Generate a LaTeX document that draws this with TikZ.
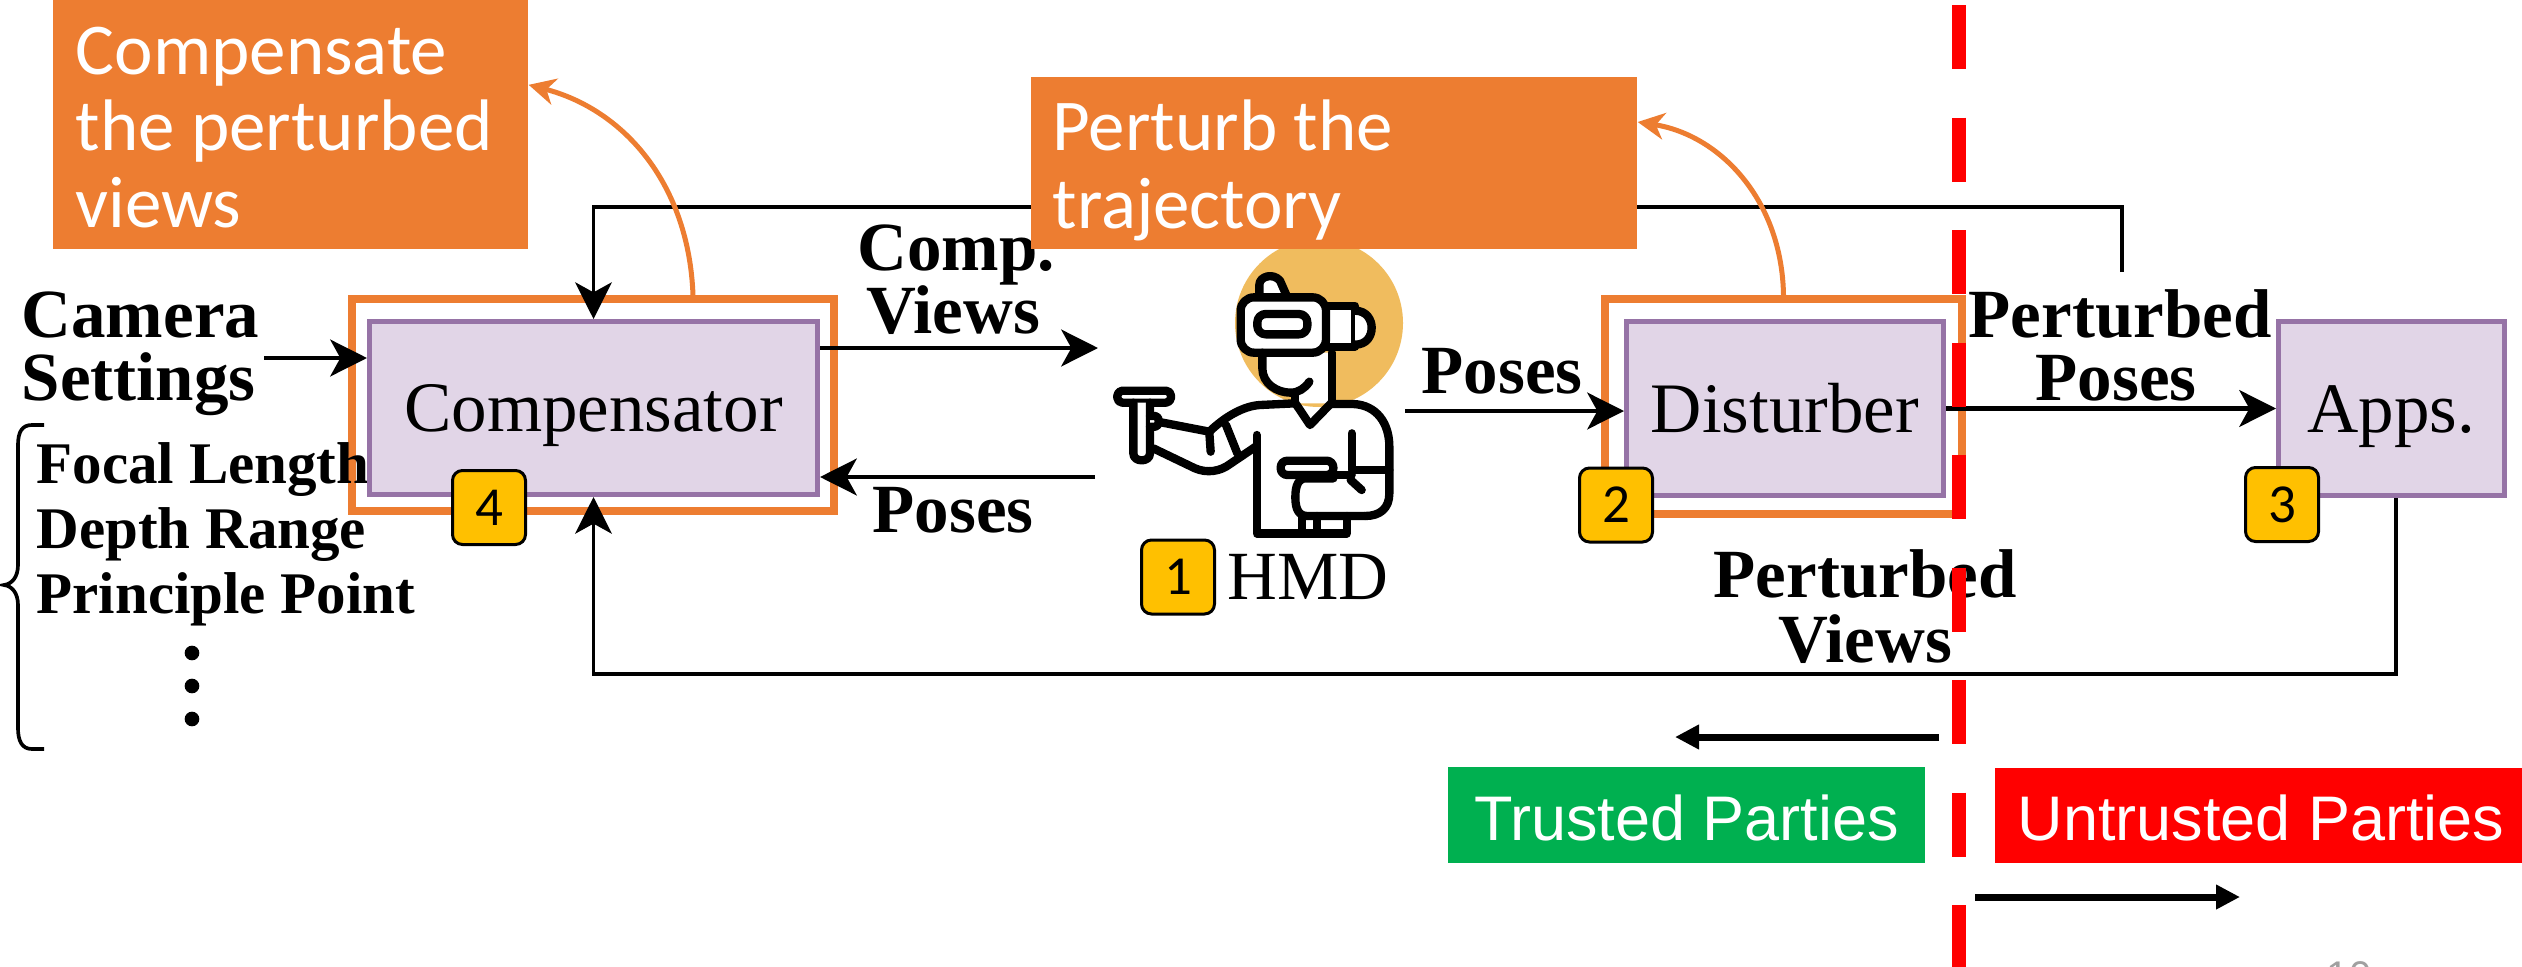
\documentclass[tikz,border=0pt]{standalone}
\usepackage{fontspec}
\usetikzlibrary{arrows.meta}
\newfontfamily\serifface{Liberation Serif}
\newfontfamily\noteface{Carlito}
\newfontfamily\partyface{Liberation Sans}
\definecolor{pptorange}{HTML}{ED7D31}
\definecolor{modfill}{HTML}{E1D5E7}
\definecolor{modline}{HTML}{9673A6}
\definecolor{badgefill}{HTML}{FFC000}
\definecolor{halo}{HTML}{F0BC5E}
\definecolor{trustgreen}{HTML}{00B050}
\definecolor{untrustred}{HTML}{FF0000}
\definecolor{pagegray}{HTML}{A0A0A0}

\tikzset{
  lbl/.style={inner sep=0pt, anchor=base, font=\serifface\bfseries\fontsize{20.7pt}{20.7pt}\selectfont},
  lst/.style={inner sep=0pt, anchor=base west, font=\serifface\bfseries\fontsize{17.7pt}{17.7pt}\selectfont},
  modbox/.style={draw=modline, fill=modfill, line width=1.5pt, inner sep=0pt, text height=14.1pt, text depth=0pt, font=\serifface\fontsize{21.3pt}{21.3pt}\selectfont},
  ringbox/.style={draw=pptorange, line width=2.2pt, inner sep=0pt},
  notebox/.style={fill=pptorange, inner sep=0pt},
  notetxt/.style={inner sep=0pt, anchor=base west, text=white, font=\noteface\fontsize{21.9pt}{21.9pt}\selectfont},
  badge/.style={draw=black, line width=0.9pt, fill=badgefill, rounded corners=3pt, minimum width=21.9pt, minimum height=22.2pt, inner sep=0pt, font=\noteface\fontsize{16.5pt}{16.5pt}\selectfont},
  flow/.style={line width=1.4pt, -{Stealth[length=11pt,width=11pt,inset=3pt]}},
  feedback/.style={line width=1.1pt, -{Stealth[length=11pt,width=11pt,inset=3pt]}},
  curlarrow/.style={draw=pptorange, line width=1.5pt, -{Stealth[length=8pt,width=8pt,inset=2.5pt]}},
  partybox/.style={inner sep=0pt, text=white, text height=15pt, text depth=0pt, font=\partyface\fontsize{18.9pt}{18.9pt}\selectfont},
  bigarrow/.style={line width=2.1pt, -{Triangle[length=7.2pt,width=7pt]}},
  boundary/.style={draw=untrustred, line width=4.2pt, dash pattern=on 19.2pt off 14.55pt},
  figline/.style={line width=2.5pt, line join=round, line cap=round},
}

\begin{document}
\begin{tikzpicture}[x=0.3pt,y=-0.3pt]
\useasboundingbox (0,0) rectangle (2522,966);
\fill[white] (0,0) rectangle (2522,966);

% ---------------- free ends of the connectors
\coordinate (camout)  at (264,358);
\coordinate (hmdin)   at (1098,348);
\coordinate (hmdout)  at (1095,477);
\coordinate (hmdpose) at (1405,411);
\coordinate (loopend) at (2122,272);
\coordinate (looptop) at (1000,207);
\coordinate (loopbot) at (1000,674);
\coordinate (trustfrom) at (1939,737);
\coordinate (trustto)   at (1675,737);
\coordinate (untrfrom)  at (1975,897);
\coordinate (untrto)    at (2240,897);
\coordinate (redtop) at (1959,5);
\coordinate (redbot) at (1959,980);

% ---------------- orange frames around the two privacy modules
\node[ringbox, minimum width=144.6pt, minimum height=63.6pt] (compring) at (593,405) {};
\node[ringbox, minimum width=107.1pt, minimum height=64.5pt] (distring) at (1783.5,406.5) {};

% ---------------- camera settings and their list
\node[lbl, anchor=base west] (camA) at (21,337) {Camera};
\node[lbl, anchor=base west] (camB) at (21,400) {Settings};
\node[lst] (focal) at (36,483) {Focal Length};
\node[lst] (depth) at (36,548) {Depth Range};
\node[lst] (princ) at (36,613) {Principle Point};
\foreach \y in {653,686,719} \fill (192,\y) circle[radius=2.2pt];
\draw[line width=1.1pt] (44,425) -- (32,425) .. controls (22,425) and (18,432) .. (18,445)
  -- (18,565) .. controls (18,577) and (12,584) .. (4,585)
  .. controls (12,586) and (18,593) .. (18,605)
  -- (18,728) .. controls (18,741) and (22,749) .. (32,749) -- (44,749);

% ---------------- modules
\node[modbox, minimum width=134.4pt, minimum height=51.9pt] (comp) at (593.5,408) {Compensator};
\node[modbox, minimum width=95.1pt, minimum height=52.2pt] (dist) at (1785,408.5) {Disturber};
\node[modbox, minimum width=67.8pt, minimum height=52.2pt] (apps) at (2391.5,408.5) {Apps.};

% ---------------- connector labels
\node[lbl] (compA) at (956,270) {Comp.};
\node[lbl] (compB) at (953,333) {Views};
\node[lbl] (posesL) at (953,532) {Poses};
\node[lbl] (posesU) at (1502,393) {Poses};
\node[lbl] (pertA) at (2120,337) {Perturbed};
\node[lbl] (pertB) at (2116,400) {Poses};
\node[lbl] (pvA) at (1865,597) {Perturbed};
\node[lbl] (pvB) at (1865,662) {Views};
\node[inner sep=0pt, anchor=base west, font=\serifface\fontsize{20.7pt}{20.7pt}\selectfont] (hmd) at (1227,599) {HMD};

% ---------------- connectors
\draw[flow] (camout) -- (camout -| comp.west);
\draw[flow] (comp.east |- hmdin) -- (hmdin);
\draw[flow] (hmdout) -- (hmdout -| comp.east);
\draw[flow] (hmdpose) -- (hmdpose -| dist.west);
\draw[flow] (dist.east) -- (apps.west);
\draw[feedback] (loopend) |- (looptop) -| (comp.north);
\draw[feedback] ([xshift=1.3pt]apps.south) |- (loopbot) -| (comp.south);

% ---------------- head-mounted display user
\fill[halo] (1319,323) circle[radius=25.2pt];
\begin{scope}[shift={(330pt,-72pt)}, x=0.1pt, y=-0.1pt, figline]
  \fill[white] (487,338) -- (487,385) .. controls (487,430) and (530,458) .. (585,458)
    -- (585,490) -- (695,490) -- (695,338) -- cycle;
  % hair tuft
  \draw[fill=white] (478,175) -- (478,135) .. controls (478,108) and (520,98) .. (540,122) -- (562,172);
  % strap and ear piece
  \draw[fill=white] (678,197) rectangle (765,320);
  \draw[fill=white] (765,212) .. controls (800,212) and (815,240) .. (815,263)
    .. controls (815,288) and (800,314) .. (765,314);
  % goggles
  \draw[fill=white, rounded corners=4pt] (422,172) rectangle (678,338);
  \draw[rounded corners=2.5pt] (472,222) rectangle (622,283);
  % face and neck
  \draw (487,338) -- (487,385) .. controls (487,430) and (530,458) .. (572,458)
    .. controls (595,458) and (615,445) .. (628,425);
  \draw (585,458) -- (585,490);
  \draw (695,338) -- (695,492);
  \draw (585,488) -- (630,555) -- (695,488);
  % shoulders and held-out arm
  \draw (585,490) -- (480,495) .. controls (430,498) and (375,530) .. (328,575) -- (178,546);
  \draw (160,625) -- (285,685) .. controls (320,700) and (360,695) .. (390,672) -- (470,618);
  \draw (328,578) -- (332,635);
  \draw (378,555) -- (412,640);
  % hand controller
  \draw[fill=white, rounded corners=1.5pt] (52,452) rectangle (213,488);
  \draw[fill=white] (100,488) -- (100,640) .. controls (100,668) and (150,668) .. (150,640) -- (150,488);
  \draw[fill=white] (150,528) -- (166,528) .. controls (180,528) and (180,560) .. (166,560) -- (150,560);
  % torso
  \draw (470,585) -- (470,880) -- (740,880) -- (740,828);
  % other arm
  \draw (695,492) -- (760,492) .. controls (830,495) and (868,550) .. (868,620) -- (868,760)
    .. controls (868,805) and (840,828) .. (795,828);
  \draw (755,580) -- (755,690) -- (868,690);
  % controller held at the waist
  \draw[fill=white, rounded corners=2pt] (542,662) rectangle (700,705);
  \draw (700,715) -- (618,715) .. controls (596,715) and (586,735) .. (586,772)
    .. controls (586,810) and (598,828) .. (622,828) -- (795,828);
  \draw (700,705) -- (755,705);
  \draw (752,720) -- (785,750);
  \draw (605,828) -- (605,880);
  \draw (650,828) -- (650,880);
\end{scope}

% ---------------- callouts
\node[notebox, minimum width=142.5pt, minimum height=74.7pt] (noteA) at (290.5,124.5) {};
\node[notetxt] (noteA1) at (75,74) {Compensate};
\node[notetxt] (noteA2) at (75,150) {the perturbed};
\node[notetxt] (noteA3) at (75,227) {views};
\node[notebox, minimum width=181.8pt, minimum height=51.6pt] (noteB) at (1334,163) {};
\node[notetxt] (noteB1) at (1052,150) {Perturb the};
\node[notetxt] (noteB2) at (1052,228) {trajectory};
\draw[curlarrow] ([xshift=30pt]compring.north) .. controls (689,185) and (625,110) .. ([yshift=11.9pt]noteA.east);
\draw[curlarrow] (distring.north) .. controls (1782,200) and (1720,135) .. ([yshift=12.3pt]noteB.east);

% ---------------- step numbers
\node[badge] (b1) at (1178,577) {1};
\node[badge] (b2) at (1616,505) {2};
\node[badge] (b3) at (2282,504.5) {3};
\node[badge] (b4) at (489,507.5) {4};

% ---------------- trust boundary
\node[partybox, fill=trustgreen, minimum width=143.1pt, minimum height=28.8pt] (trusted) at (1686.5,815) {Trusted Parties};
\node[partybox, fill=untrustred, minimum width=159.6pt, minimum height=28.5pt] (untrusted) at (2261,815.5) {Untrusted Parties};
\draw[bigarrow] (trustfrom) -- (trustto);
\draw[bigarrow] (untrfrom) -- (untrto);
\draw[boundary] (redtop) -- (redbot);

\node[inner sep=0pt, anchor=north, text=pagegray, font=\partyface\fontsize{12pt}{12pt}\selectfont] (pagenum) at (2349,961) {10};
\end{tikzpicture}
\end{document}
